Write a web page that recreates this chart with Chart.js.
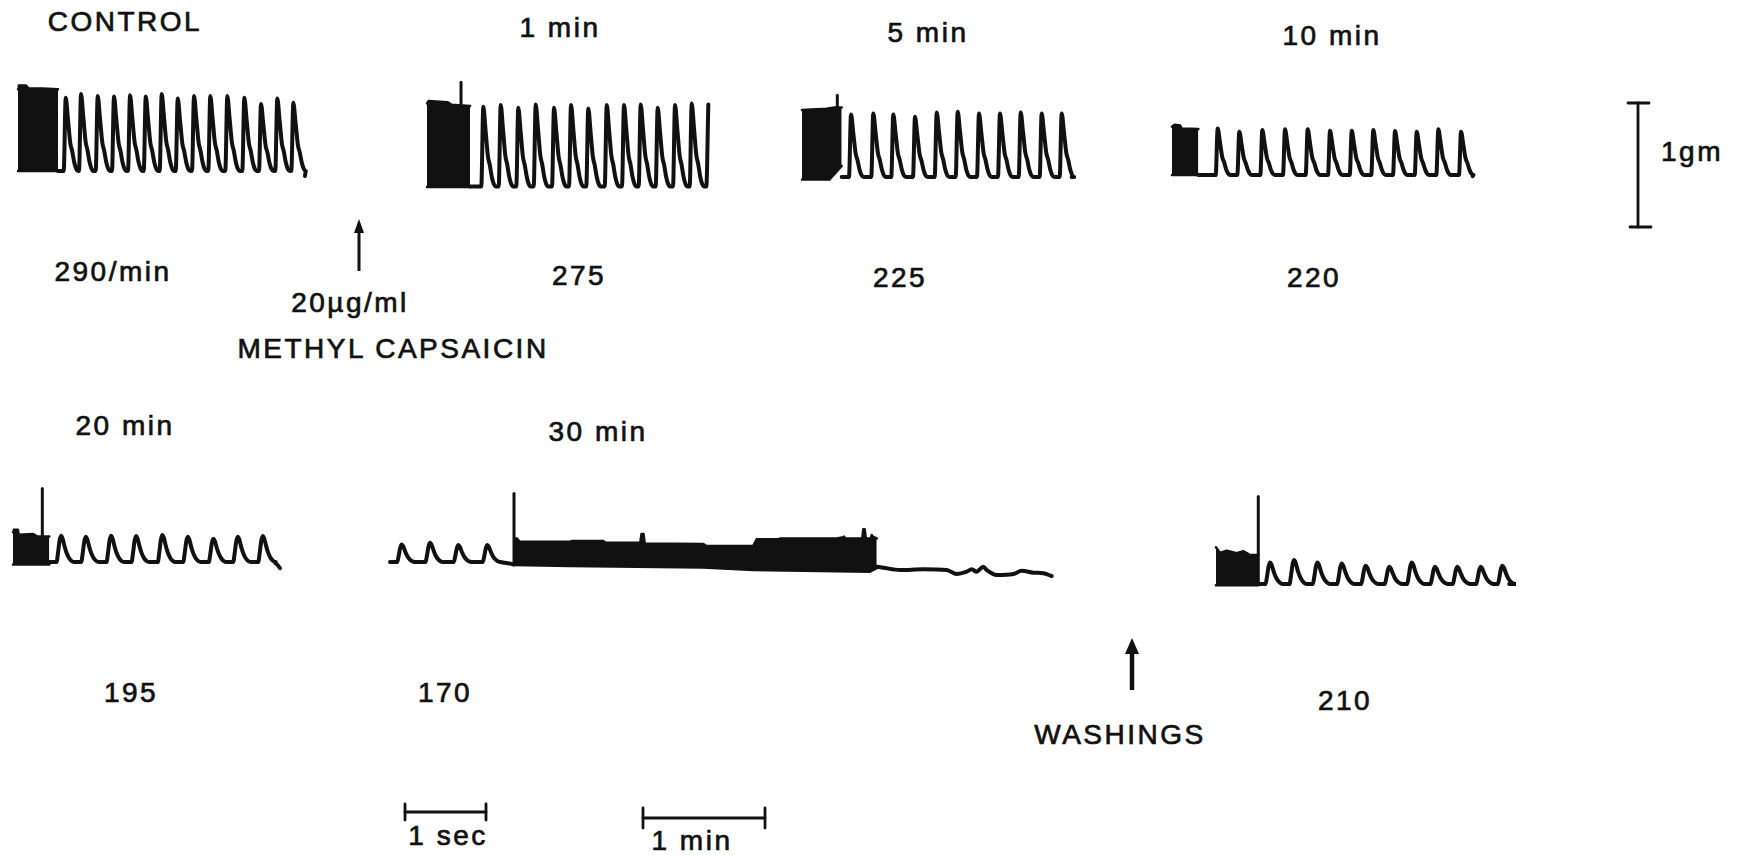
<!DOCTYPE html>
<html><head><meta charset="utf-8">
<script src="https://cdn.jsdelivr.net/npm/chart.js@4.4.1/dist/chart.umd.min.js"></script>
<style>
html,body{margin:0;padding:0;background:#fff;}
#stage{position:relative;width:1758px;height:855px;overflow:hidden;background:#fff;}
canvas.trace{position:absolute;}
.lbl{position:absolute;font-family:'Liberation Sans',Arial,sans-serif;font-size:28px;letter-spacing:2.5px;color:#111;white-space:nowrap;transform:translate(-50%,-50%);-webkit-text-stroke:0.7px #111;line-height:1;}
svg{position:absolute;left:0;top:0;}
</style></head><body><div id="stage"></div>
<script>
// ---------- calibration (from the figure's scale bars) ----------
const PX_PER_SEC = 81;    // "1 sec" bar length
const PX_PER_GRAM = 124;  // "1 gm" bar length
const PX_PER_MIN = 122;   // "1 min" bar length

// ---------- DATA: time in s (paper position), tension in g ----------
// CONTROL, 290/min
const ctrlBlockTop = [[0,0.66],[0.01,0.69],[0.1,0.69],[0.13,0.665],[0.3,0.665],[0.494,0.66]];
const ctrlBlockBottom = [[0,0],[0.494,0]];
const ctrlBeatT = [0.589,0.778,0.984,1.185,1.383,1.577,1.774,1.972,2.173,2.374,2.584,2.794,3.0,3.201,3.399];
const ctrlBeatG = [0.59,0.62,0.605,0.6,0.61,0.6,0.62,0.585,0.605,0.605,0.605,0.59,0.54,0.585,0.55];
const ctrlEnd = [[3.543,-0.04]];

// 1 min, 275
const m1BlockTop = [[0,0.67],[0.02,0.69],[0.25,0.68],[0.3,0.66],[0.531,0.65]];
const m1BlockBottom = [[0,-0.005],[0.531,-0.005]];
const m1Spike = [[0.42,0.65],[0.42,0.84]];
const m1BeatT = [0.695,0.910,1.127,1.342,1.568,1.778,1.991,2.219,2.432,2.638,2.848,3.062,3.268,3.473];
const m1BeatG = [0.644,0.658,0.636,0.662,0.636,0.658,0.63,0.658,0.658,0.662,0.636,0.658,0.67,0.662];

// 5 min, 225
const m5BlockTop = [[0,0.54],[0.3,0.55],[0.4,0.56],[0.49,0.56]];
const m5BlockBottom = [[0,-0.02],[0.34,-0.02],[0.49,0.09]];
const m5Spike = [[0.436,0.55],[0.436,0.66]];
const m5BeatT = [0.605,0.880,1.127,1.395,1.663,1.922,2.185,2.444,2.700,2.959,3.206];
const m5BeatG = [0.505,0.513,0.505,0.486,0.521,0.527,0.513,0.513,0.521,0.513,0.513];
const m5End = [[3.329,0]];

// 10 min, 220
const m10BlockTop = [[0,0.39],[0.03,0.405],[0.1,0.40],[0.12,0.375],[0.325,0.37]];
const m10BlockBottom = [[0,0],[0.325,0]];
const m10BeatT = [0.564,0.831,1.115,1.395,1.675,1.951,2.219,2.485,2.753,3.021,3.288,3.568];
const m10BeatG = [0.376,0.349,0.363,0.368,0.368,0.357,0.357,0.363,0.355,0.349,0.368,0.349];
const m10End = [[3.712,-0.01]];

// 20 min, 195
const m20BlockTop = [[0,0.24],[0.01,0.26],[0.06,0.26],[0.07,0.22],[0.25,0.225],[0.3,0.205],[0.448,0.205]];
const m20BlockBottom = [[0,-0.02],[0.448,-0.02]];
const m20Spike = [[0.362,0.2],[0.362,0.593]];
const m20BeatT = [0.593,0.898,1.210,1.519,1.843,2.157,2.473,2.774,3.083];
const m20BeatG = [0.212,0.204,0.212,0.21,0.218,0.204,0.188,0.204,0.21];
const m20End = [[3.24,-0.01],[3.296,-0.05]];

// 30 min, 170 (then contracture / arrest)
const m30BeatT = [0.144,0.494,0.843,1.201];
const m30BeatG = [0.142,0.156,0.137,0.137];
const m30PreEnd = [[1.5,-0.015],[1.531,-0.02]];
const m30Spike = [[1.531,-0.02],[1.531,0.553]];
const m30BandTop = [[1.531,0.19],[1.564,0.19],[1.6,0.165],[2.222,0.164],[2.25,0.17],[2.633,0.17],[2.66,0.156],[3.09,0.156],[3.105,0.226],[3.13,0.226],[3.145,0.15],[3.868,0.145],[3.9,0.13],[4.485,0.13],[4.527,0.183],[4.8,0.183],[4.815,0.19],[5.515,0.19],[5.597,0.2],[5.605,0.205],[5.62,0.19],[5.83,0.19],[5.843,0.264],[5.86,0.264],[5.875,0.19],[5.935,0.19],[5.947,0.218],[5.96,0.205],[6.009,0.19]];
const m30BandBottom = [[1.531,-0.024],[2.222,-0.032],[3.045,-0.038],[3.868,-0.045],[4.485,-0.065],[5.926,-0.078],[6.009,-0.05]];
const m30Tail = [[6.009,-0.038],[6.090,-0.046],[6.296,-0.065],[6.584,-0.059],[6.873,-0.065],[6.996,-0.097],[7.120,-0.078],[7.181,-0.059],[7.243,-0.078],[7.325,-0.038],[7.367,-0.065],[7.490,-0.105],[7.695,-0.097],[7.799,-0.070],[7.942,-0.086],[8.065,-0.091],[8.169,-0.113]];

// after washings, 210
const washBlockTop = [[0,0.296],[0.049,0.25],[0.132,0.269],[0.255,0.248],[0.337,0.265],[0.42,0.234],[0.522,0.234]];
const washBlockBottom = [[0,-0.01],[0.522,-0.01]];
const washSpike = [[0.522,0],[0.522,0.706]];
const washBeatT = [0.667,0.963,1.251,1.552,1.848,2.140,2.416,2.704,2.979,3.268,3.535];
const washBeatG = [0.174,0.194,0.174,0.166,0.148,0.14,0.174,0.14,0.14,0.14,0.148];
const washEnd = [[3.62,0]];

// ---------- beat waveform shapes (offset in px of paper, fraction of peak) ----------
const tallShapePx = [[-2,0],[0,1],[2.3,0.7],[4.6,0.38],[6.5,0.27],[8.5,0.12],[10.5,0.03],[12.5,0]];
const smallShapePx = [[-4.5,0],[-3,0.35],[-1.5,0.8],[0,1],[1.5,0.9],[3.5,0.6],[5.5,0.35],[8,0.15],[10.5,0.04],[13,0]];
const tallShape = tallShapePx.map(([p,f])=>[p/PX_PER_SEC,f]);
const smallShape = smallShapePx.map(([p,f])=>[p/PX_PER_SEC,f]);

function pts(arr){ return arr.map(([x,y])=>({x,y})); }
function buildTrace(start, times, peaks, shape, end, cutLast){
  const out=[{x:start[0],y:start[1]}];
  times.forEach((T,i)=>{
    const nextStart = i<times.length-1 ? times[i+1]+shape[0][0] : Infinity;
    shape.forEach(([dt,f])=>{
      if(cutLast && i===times.length-1 && dt>0) return;
      const t=T+dt;
      if(t<=out[out.length-1].x || t>=nextStart) return;
      out.push({x:t,y:f*peaks[i]});
    });
  });
  (end||[]).forEach(([t,g])=>out.push({x:t,y:g}));
  return out;
}

const INK='#111';
function blockSets(top,bottom){
  return [
    {data:pts(bottom),borderColor:INK,borderWidth:2.5,fill:false,tension:0},
    {data:pts(top),borderColor:INK,borderWidth:2.5,fill:'-1',backgroundColor:INK,tension:0}
  ];
}
function lineSet(data,w){ return {data,borderColor:INK,borderWidth:w||4,fill:false,cubicInterpolationMode:'monotone'}; }
function vSet(arr,w){ return {data:pts(arr),borderColor:INK,borderWidth:w||3,fill:false,tension:0}; }

// ---------- LAYOUT: where each panel sits on the page ----------
const panels = [
  {x0:18, base:171, t:[-0.15,3.65], g:[-0.15,0.78], sets:[
    ...blockSets(ctrlBlockTop,ctrlBlockBottom),
    lineSet(buildTrace([0.494,0],ctrlBeatT,ctrlBeatG,tallShape,ctrlEnd))]},
  {x0:427, base:186.5, t:[-0.15,3.6], g:[-0.15,0.9], sets:[
    ...blockSets(m1BlockTop,m1BlockBottom), vSet(m1Spike),
    lineSet(buildTrace([0.531,0],m1BeatT,m1BeatG,tallShape,[],true))]},
  {x0:802, base:177, t:[-0.15,3.45], g:[-0.15,0.75], sets:[
    ...blockSets(m5BlockTop,m5BlockBottom), vSet(m5Spike),
    lineSet(buildTrace([0.49,0],m5BeatT,m5BeatG,tallShape,m5End))]},
  {x0:1172, base:175, t:[-0.15,3.8], g:[-0.15,0.5], sets:[
    ...blockSets(m10BlockTop,m10BlockBottom),
    lineSet(buildTrace([0.325,0],m10BeatT,m10BeatG,tallShape,m10End))]},
  {x0:13, base:562, t:[-0.12,3.4], g:[-0.2,0.66], sets:[
    ...blockSets(m20BlockTop,m20BlockBottom), vSet(m20Spike),
    lineSet(buildTrace([0.448,0],m20BeatT,m20BeatG,smallShape,m20End))]},
  {x0:390, base:562, t:[-0.1,8.3], g:[-0.2,0.62], sets:[
    lineSet(buildTrace([0,0],m30BeatT,m30BeatG,smallShape,m30PreEnd)),
    vSet(m30Spike),
    ...blockSets(m30BandTop,m30BandBottom),
    lineSet(pts(m30Tail),4)]},
  {x0:1216, base:584, t:[-0.12,3.7], g:[-0.15,0.78], sets:[
    ...blockSets(washBlockTop,washBlockBottom), vSet(washSpike),
    lineSet(buildTrace([0.522,0],washBeatT,washBeatG,smallShape,washEnd))]}
];

const stage=document.getElementById('stage');
panels.forEach(p=>{
  const left=Math.round(p.x0+p.t[0]*PX_PER_SEC), right=Math.round(p.x0+p.t[1]*PX_PER_SEC);
  const top=Math.round(p.base-p.g[1]*PX_PER_GRAM), bottom=Math.round(p.base-p.g[0]*PX_PER_GRAM);
  const c=document.createElement('canvas');
  c.className='trace'; c.width=right-left; c.height=bottom-top;
  c.style.left=left+'px'; c.style.top=top+'px';
  stage.appendChild(c);
  new Chart(c,{type:'line',data:{datasets:p.sets},options:{
    responsive:false,animation:false,devicePixelRatio:1,events:[],
    layout:{padding:0},
    elements:{point:{radius:0},line:{borderCapStyle:'round',borderJoinStyle:'round'}},
    plugins:{legend:{display:false},tooltip:{enabled:false}},
    scales:{
      x:{type:'linear',display:false,min:(left-p.x0)/PX_PER_SEC,max:(right-p.x0)/PX_PER_SEC},
      y:{type:'linear',display:false,min:(p.base-bottom)/PX_PER_GRAM,max:(p.base-top)/PX_PER_GRAM}
    }}});
});

// ---------- labels ----------
const labels=[
  ['CONTROL',125,22],['1 min',560,28],['5 min',928,33],['10 min',1332,36],
  ['290/min',113,272],['275',579,276],['225',900,278],['220',1314,278],
  ['20\u00b5g/ml',350,303],['METHYL CAPSAICIN',393,349],['1gm',1692,152],
  ['20 min',125,426],['30 min',598,432],['195',131,693],['170',445,693],['210',1345,701],
  ['WASHINGS',1120,735],['1 sec',448,836],['1 min',692,841]
];
labels.forEach(([t,x,y])=>{
  const d=document.createElement('div'); d.className='lbl'; d.textContent=t;
  d.style.left=x+'px'; d.style.top=y+'px'; stage.appendChild(d);
});

// ---------- scale bars and arrows ----------
const gmX=1638, gmTop=103, secX=405, secY=812, minX=643, minY=818;
const ns='http://www.w3.org/2000/svg';
const svg=document.createElementNS(ns,'svg'); svg.setAttribute('width',1758); svg.setAttribute('height',855);
function el(tag,attrs){const e=document.createElementNS(ns,tag);for(const k in attrs)e.setAttribute(k,attrs[k]);svg.appendChild(e);return e;}
const stroke={stroke:INK,'stroke-width':2.8,fill:'none','stroke-linecap':'round'};
el('line',{x1:gmX,y1:gmTop,x2:gmX,y2:gmTop+PX_PER_GRAM,...stroke});
el('line',{x1:gmX-10,y1:gmTop,x2:gmX+11,y2:gmTop,...stroke});
el('line',{x1:gmX-8,y1:gmTop+PX_PER_GRAM,x2:gmX+13,y2:gmTop+PX_PER_GRAM,...stroke});
el('line',{x1:secX,y1:secY,x2:secX+PX_PER_SEC,y2:secY,...stroke});
el('line',{x1:secX,y1:secY-8,x2:secX,y2:secY+8,...stroke});
el('line',{x1:secX+PX_PER_SEC,y1:secY-8,x2:secX+PX_PER_SEC,y2:secY+8,...stroke});
el('line',{x1:minX,y1:minY,x2:minX+PX_PER_MIN,y2:minY,...stroke});
el('line',{x1:minX,y1:minY-10,x2:minX,y2:minY+10,...stroke});
el('line',{x1:minX+PX_PER_MIN,y1:minY-10,x2:minX+PX_PER_MIN,y2:minY+10,...stroke});
// arrows
el('line',{x1:359,y1:271,x2:359,y2:230,stroke:INK,'stroke-width':3});
el('polygon',{points:'359,219 354,233 364,233',fill:INK});
el('line',{x1:1132,y1:690,x2:1132,y2:650,stroke:INK,'stroke-width':4.5});
el('polygon',{points:'1132,638 1125,654 1139,654',fill:INK});
stage.appendChild(svg);
</script></body></html>
